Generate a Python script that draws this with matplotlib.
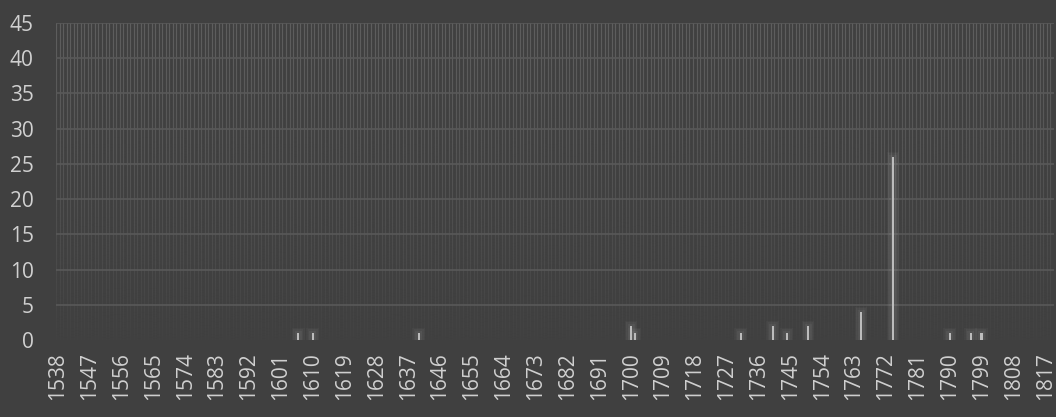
import numpy as np
import matplotlib.pyplot as plt

# one category per year, 1538..1819
years = list(range(1538, 1820))

# years with entries and their counts
event_years = [1606, 1610, 1640, 1700, 1701, 1731, 1740, 1744, 1750,
               1765, 1774, 1790, 1796, 1799]
event_counts = [1, 1, 1, 2, 1, 1, 2, 1, 2, 4, 26, 1, 1, 1]

counts = [0] * len(years)
for y, c in zip(event_years, event_counts):
    counts[years.index(y)] = c

bg = '#404040'
txt = '#d0d0d0'

plt.rcParams['font.family'] = ['Open Sans', 'DejaVu Sans']

fig = plt.figure(figsize=(10.56, 4.17), dpi=100, facecolor=bg)
ax = fig.add_axes([56 / 1056, 77 / 417, 998 / 1056, 317 / 417])
ax.set_facecolor(bg)

x = np.arange(len(years))
ax.set_xlim(-0.5, len(years) - 0.5)
ax.set_ylim(0, 45)

# vertical category gridlines, faded toward the bottom
for xi in x:
    ax.axvline(xi - 0.5, color='#5e5e5e', lw=0.9, zorder=1)
grad = np.linspace(0, 1, 256).reshape(-1, 1) ** 1.3
rgba = np.zeros((256, 1, 4))
rgba[..., :3] = 0x40 / 255
rgba[..., 3] = grad[:, 0:1] * 0.95
ax.imshow(rgba[::-1], extent=(-0.5, len(years) - 0.5, 0, 45), aspect='auto',
          origin='lower', zorder=2, interpolation='bilinear')

for yv in range(5, 50, 5):
    ax.axhline(yv, color='#595959', lw=1.2, zorder=3)

# soft glow behind each bar
vals = np.array(counts, dtype=float)
for w, extra, a in [(3.6, 0.7, 0.05), (2.8, 0.5, 0.06), (2.0, 0.3, 0.08)]:
    ax.bar(x, np.where(vals > 0, vals + extra, 0), width=w,
           color='#b0b0b0', alpha=a, zorder=4, linewidth=0)
ax.bar(x, vals, width=0.6, color='#bcbcbc', zorder=5, linewidth=0)

ax.set_xticks(x[::9])
ax.set_xticklabels([str(years[i]) for i in x[::9]], rotation=90)
ax.set_yticks(range(0, 50, 5))
ax.tick_params(colors=txt, labelsize=15, length=0)
ax.tick_params(axis='y', pad=16)
ax.tick_params(axis='x', pad=9)
for s in ax.spines.values():
    s.set_visible(False)

fig.savefig('out.png', dpi=100, facecolor=bg)
